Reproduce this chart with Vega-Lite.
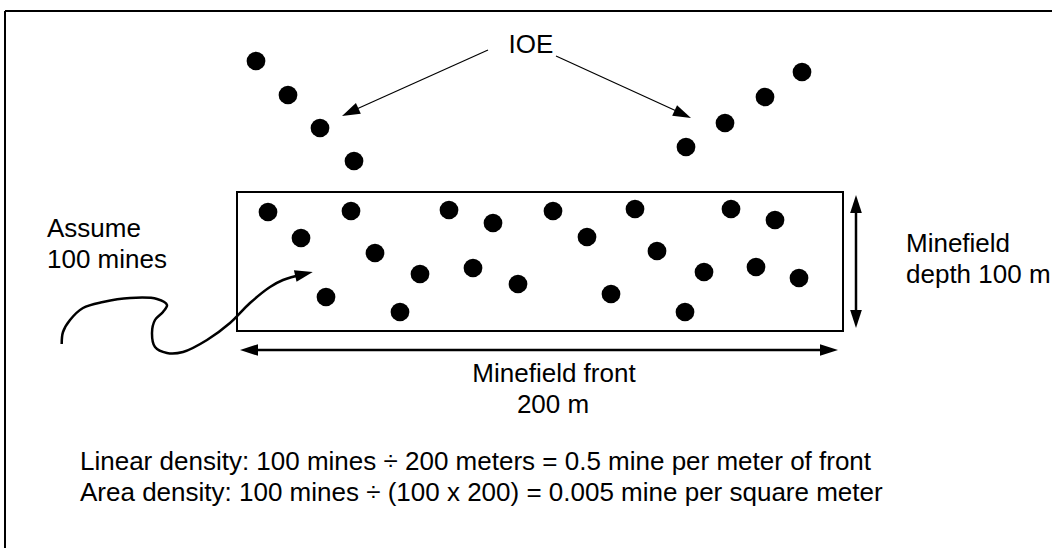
{
  "$schema": "https://vega.github.io/schema/vega-lite/v6.json",
  "width": 1052,
  "height": 548,
  "autosize": {"type": "none"},
  "padding": 0,
  "background": "white",
  "config": {"view": {"stroke": null}, "text": {"font": "Liberation Sans"}},
  "encoding": {
    "x": {"type": "quantitative", "scale": {"domain": [0, 1052], "nice": false, "zero": false}, "axis": null},
    "y": {"type": "quantitative", "scale": {"domain": [0, 548], "nice": false, "zero": false, "reverse": true}, "axis": null}
  },
  "layer": [
    {
      "data": {"values": [
        {"name": "border-top", "x": 5, "y": 11, "x2": 1052, "y2": 11},
        {"name": "border-left", "x": 5, "y": 11, "x2": 5, "y2": 548}
      ]},
      "mark": {"type": "rule", "stroke": "black", "strokeWidth": 2},
      "encoding": {"x": {"field": "x"}, "y": {"field": "y"}, "x2": {"field": "x2"}, "y2": {"field": "y2"}}
    },
    {
      "data": {"values": [{"x": 237, "y": 192, "x2": 843, "y2": 331}]},
      "mark": {"type": "rect", "fill": null, "fillOpacity": 0, "stroke": "black", "strokeWidth": 2},
      "encoding": {"x": {"field": "x"}, "y": {"field": "y"}, "x2": {"field": "x2"}, "y2": {"field": "y2"}}
    },
    {
      "data": {"values": [
        {"name": "ioe-left", "x": 488, "y": 50, "x2": 350, "y2": 112},
        {"name": "ioe-right", "x": 556, "y": 56, "x2": 683, "y2": 114}
      ]},
      "mark": {"type": "rule", "stroke": "black", "strokeWidth": 1.2},
      "encoding": {"x": {"field": "x"}, "y": {"field": "y"}, "x2": {"field": "x2"}, "y2": {"field": "y2"}}
    },
    {
      "data": {"values": [
        {"name": "front", "x": 249, "y": 350, "x2": 829, "y2": 350},
        {"name": "depth", "x": 856, "y": 204, "x2": 856, "y2": 319}
      ]},
      "mark": {"type": "rule", "stroke": "black", "strokeWidth": 2.5},
      "encoding": {"x": {"field": "x"}, "y": {"field": "y"}, "x2": {"field": "x2"}, "y2": {"field": "y2"}}
    },
    {
      "data": {"values": [
        {"o": 1, "x": 61.7, "y": 344}, {"o": 2, "x": 63, "y": 332}, {"o": 3, "x": 70, "y": 320},
        {"o": 4, "x": 83, "y": 308}, {"o": 5, "x": 103, "y": 302}, {"o": 6, "x": 130, "y": 298},
        {"o": 7, "x": 157, "y": 299}, {"o": 8, "x": 167, "y": 305}, {"o": 9, "x": 163, "y": 312},
        {"o": 10, "x": 155, "y": 320}, {"o": 11, "x": 152, "y": 333}, {"o": 12, "x": 155, "y": 347},
        {"o": 13, "x": 167, "y": 353}, {"o": 14, "x": 183, "y": 352}, {"o": 15, "x": 207, "y": 340},
        {"o": 16, "x": 230, "y": 323}, {"o": 17, "x": 250, "y": 303}, {"o": 18, "x": 270, "y": 287},
        {"o": 19, "x": 283, "y": 280}, {"o": 20, "x": 304, "y": 274}
      ]},
      "mark": {"type": "line", "stroke": "black", "strokeWidth": 2.5, "interpolate": "catmull-rom"},
      "encoding": {"x": {"field": "x"}, "y": {"field": "y"}, "order": {"field": "o", "type": "quantitative"}}
    },
    {
      "data": {"values": [{"x": 350.2, "y": 112.2}]},
      "mark": {"type": "point", "shape": "M0,-1L0.65,1L-0.65,1Z", "size": 324, "filled": true, "color": "black", "opacity": 1, "angle": 245.2},
      "encoding": {"x": {"field": "x"}, "y": {"field": "y"}}
    },
    {
      "data": {"values": [{"x": 682.8, "y": 114.2}]},
      "mark": {"type": "point", "shape": "M0,-1L0.65,1L-0.65,1Z", "size": 324, "filled": true, "color": "black", "opacity": 1, "angle": 114.6},
      "encoding": {"x": {"field": "x"}, "y": {"field": "y"}}
    },
    {
      "data": {"values": [{"x": 304, "y": 274}]},
      "mark": {"type": "point", "shape": "M0,-1L0.65,1L-0.65,1Z", "size": 324, "filled": true, "color": "black", "opacity": 1, "angle": 76.9},
      "encoding": {"x": {"field": "x"}, "y": {"field": "y"}}
    },
    {
      "data": {"values": [{"x": 249, "y": 350}]},
      "mark": {"type": "point", "shape": "M0,-1L0.65,1L-0.65,1Z", "size": 324, "filled": true, "color": "black", "opacity": 1, "angle": 270},
      "encoding": {"x": {"field": "x"}, "y": {"field": "y"}}
    },
    {
      "data": {"values": [{"x": 829, "y": 350}]},
      "mark": {"type": "point", "shape": "M0,-1L0.65,1L-0.65,1Z", "size": 324, "filled": true, "color": "black", "opacity": 1, "angle": 90},
      "encoding": {"x": {"field": "x"}, "y": {"field": "y"}}
    },
    {
      "data": {"values": [{"x": 856, "y": 204}]},
      "mark": {"type": "point", "shape": "M0,-1L0.65,1L-0.65,1Z", "size": 324, "filled": true, "color": "black", "opacity": 1, "angle": 0},
      "encoding": {"x": {"field": "x"}, "y": {"field": "y"}}
    },
    {
      "data": {"values": [{"x": 856, "y": 319}]},
      "mark": {"type": "point", "shape": "M0,-1L0.65,1L-0.65,1Z", "size": 324, "filled": true, "color": "black", "opacity": 1, "angle": 180},
      "encoding": {"x": {"field": "x"}, "y": {"field": "y"}}
    },
    {
      "data": {"values": [
        {"g": "ioe-left", "x": 256, "y": 61}, {"g": "ioe-left", "x": 288, "y": 95}, {"g": "ioe-left", "x": 320, "y": 128}, {"g": "ioe-left", "x": 354, "y": 161},
        {"g": "ioe-right", "x": 802, "y": 72}, {"g": "ioe-right", "x": 765, "y": 97}, {"g": "ioe-right", "x": 725, "y": 123}, {"g": "ioe-right", "x": 686, "y": 147},
        {"g": "field", "x": 268, "y": 212}, {"g": "field", "x": 351, "y": 211}, {"g": "field", "x": 449, "y": 210}, {"g": "field", "x": 493, "y": 223},
        {"g": "field", "x": 553, "y": 211}, {"g": "field", "x": 635, "y": 209}, {"g": "field", "x": 731, "y": 209}, {"g": "field", "x": 775, "y": 220},
        {"g": "field", "x": 301, "y": 238}, {"g": "field", "x": 587, "y": 237}, {"g": "field", "x": 375, "y": 253}, {"g": "field", "x": 657, "y": 251},
        {"g": "field", "x": 420, "y": 274}, {"g": "field", "x": 473, "y": 268}, {"g": "field", "x": 518, "y": 284}, {"g": "field", "x": 704, "y": 272},
        {"g": "field", "x": 756, "y": 267}, {"g": "field", "x": 799, "y": 278}, {"g": "field", "x": 326, "y": 297}, {"g": "field", "x": 400, "y": 312},
        {"g": "field", "x": 611, "y": 294}, {"g": "field", "x": 685, "y": 312}
      ]},
      "mark": {"type": "circle", "size": 350, "color": "black", "opacity": 1},
      "encoding": {"x": {"field": "x"}, "y": {"field": "y"}}
    },
    {
      "data": {"values": [
        {"x": 531, "y": 53, "t": "IOE"},
        {"x": 554, "y": 382, "t": "Minefield front"},
        {"x": 553, "y": 413, "t": "200 m"}
      ]},
      "mark": {"type": "text", "align": "center", "baseline": "alphabetic", "fontSize": 26, "font": "Liberation Sans", "color": "black"},
      "encoding": {"x": {"field": "x"}, "y": {"field": "y"}, "text": {"field": "t"}}
    },
    {
      "data": {"values": [
        {"x": 47, "y": 237, "t": "Assume"},
        {"x": 47, "y": 268, "t": "100 mines"},
        {"x": 906, "y": 252, "t": "Minefield"},
        {"x": 906, "y": 283, "t": "depth 100 m"},
        {"x": 80, "y": 470, "t": "Linear density: 100 mines ÷ 200 meters = 0.5 mine per meter of front"},
        {"x": 80, "y": 501, "t": "Area density: 100 mines ÷ (100 x 200) = 0.005 mine per square meter"}
      ]},
      "mark": {"type": "text", "align": "left", "baseline": "alphabetic", "fontSize": 26, "font": "Liberation Sans", "color": "black"},
      "encoding": {"x": {"field": "x"}, "y": {"field": "y"}, "text": {"field": "t"}}
    }
  ]
}
